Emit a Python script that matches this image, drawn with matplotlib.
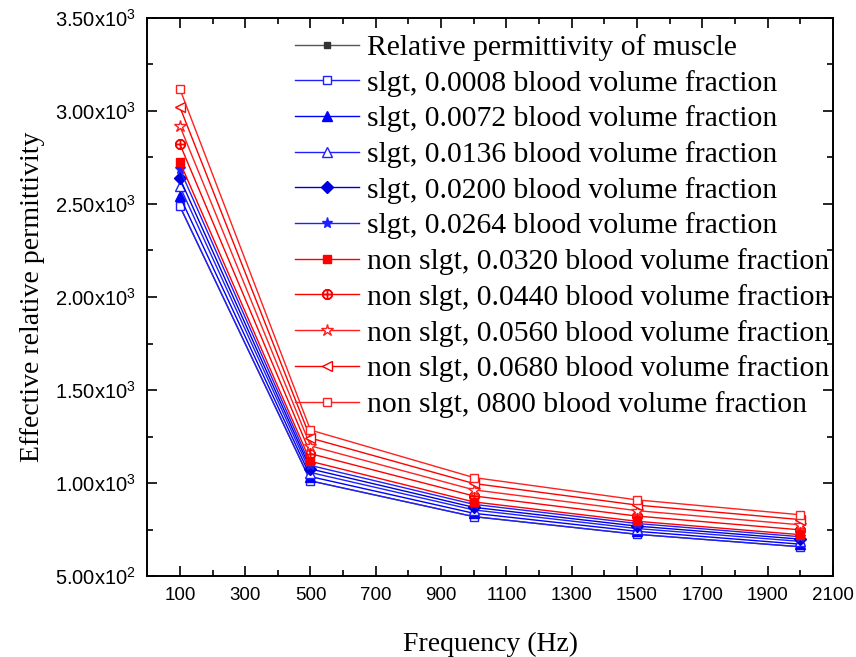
import numpy as np
import matplotlib
matplotlib.use("Agg")
import matplotlib.pyplot as plt
from matplotlib.ticker import FuncFormatter, MultipleLocator

plt.rcParams['mathtext.fontset'] = 'custom'
plt.rcParams['mathtext.rm'] = 'Liberation Sans'
plt.rcParams['mathtext.it'] = 'Liberation Sans'

freq = [100, 500, 1000, 1500, 2000]

# values
muscle = [2487, 1012, 820, 725, 658]
slgt_0008 = [2487, 1012, 820, 725, 658]
slgt_0072 = [2540, 1035, 838, 741, 672]
slgt_0136 = [2594, 1057, 856, 756, 687]
slgt_0200 = [2637, 1076, 870, 769, 699]
slgt_0264 = [2686, 1095, 886, 783, 712]
non_0320 = [2724, 1117, 899, 795, 723]
non_0440 = [2821, 1158, 931, 823, 749]
non_0560 = [2918, 1200, 964, 852, 776]
non_0680 = [3020, 1242, 998, 882, 804]
non_0800 = [3117, 1285, 1030, 910, 830]

labels = ['Relative permittivity of muscle',
          'slgt, 0.0008 blood volume fraction',
          'slgt, 0.0072 blood volume fraction',
          'slgt, 0.0136 blood volume fraction',
          'slgt, 0.0200 blood volume fraction',
          'slgt, 0.0264 blood volume fraction',
          'non slgt, 0.0320 blood volume fraction',
          'non slgt, 0.0440 blood volume fraction',
          'non slgt, 0.0560 blood volume fraction',
          'non slgt, 0.0680 blood volume fraction',
          'non slgt, 0800 blood volume fraction']

series = [muscle, slgt_0008, slgt_0072, slgt_0136, slgt_0200, slgt_0264,
          non_0320, non_0440, non_0560, non_0680, non_0800]

# (line colour, marker, filled, marker size)
styles = [('#555555', 's', True, 5),
          ('#2020ff', 's', False, 6),
          ('#0000ff', '^', True, 7),
          ('#2020ff', '^', False, 7),
          ('#0000dd', 'D', True, 6),
          ('#2020ff', '*', True, 8),
          ('#ff0000', 's', True, 6),
          ('#ff0000', r'$\oplus$', False, 7),
          ('#ff2020', '*', False, 9),
          ('#ff0000', '<', False, 7),
          ('#ff2020', 's', False, 6)]

fig = plt.figure(figsize=(8.56, 6.57), dpi=100)
ax = fig.add_axes([0.172, 0.123, 0.801, 0.850])

for vals, lab, (c, m, filled, ms) in zip(series, labels, styles):
    mc = c if c != '#555555' else '#333333'
    ax.plot(freq, vals, color=c, lw=1.0, marker=m, ms=ms,
            markerfacecolor=(mc if filled else 'white') if m[0] != '$' else c,
            markeredgecolor=mc, markeredgewidth=1.0, label=lab)

ax.set_xlim(0, 2100)
ax.set_ylim(500, 3500)
ax.set_xticks(np.arange(100, 2101, 200))
ax.xaxis.set_minor_locator(MultipleLocator(100))
ax.yaxis.set_major_locator(MultipleLocator(500))
ax.yaxis.set_minor_locator(MultipleLocator(250))


def sci(v, pos):
    if v <= 0:
        return ''
    e = int(np.floor(np.log10(v)))
    return '%.2fx10$^{%d}$' % (v / 10 ** e, e)


ax.yaxis.set_major_formatter(FuncFormatter(sci))
ax.tick_params(which='both', direction='in', top=True, right=True, width=1.2)
ax.tick_params(which='major', length=7, pad=8)
ax.tick_params(axis='x', labelsize=13.5)
ax.tick_params(axis='y', labelsize=14.5)
ax.tick_params(which='minor', length=4)
for lab in ax.get_xticklabels() + ax.get_yticklabels():
    lab.set_fontfamily('Liberation Sans')
for s in ax.spines.values():
    s.set_linewidth(1.4)

ax.set_xlabel('Frequency (Hz)', fontfamily='Liberation Serif', fontsize=20, labelpad=20)
ax.set_ylabel('Effective relative permittivity', fontfamily='Liberation Serif', fontsize=20, labelpad=7)

leg = ax.legend(loc='upper left', bbox_to_anchor=(295 / 856, 1 - 34 / 657),
                bbox_transform=fig.transFigure, frameon=False,
                prop={'family': 'Liberation Serif', 'size': 21.3},
                handlelength=2.15, handletextpad=0.3, labelspacing=0.295,
                borderpad=0, borderaxespad=0)

fig.savefig('out.png', dpi=100)
